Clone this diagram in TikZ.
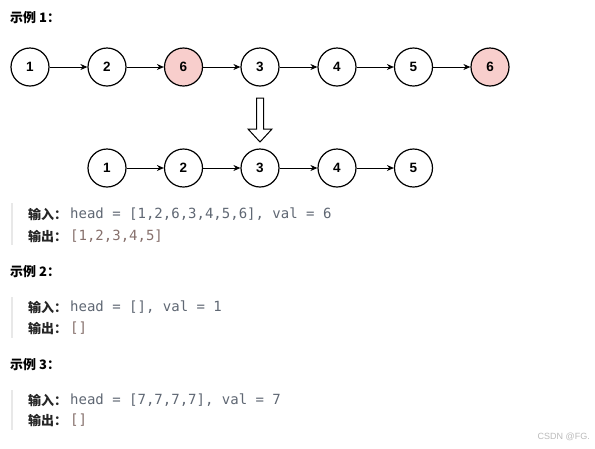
\documentclass[tikz,border=0pt]{standalone}
\usepackage{fontspec}
\setmainfont{Liberation Sans}
\newfontfamily\cjk{Noto Sans CJK SC}
\setmonofont{DejaVu Sans Mono}
\usetikzlibrary{arrows.meta}
\definecolor{pinkfill}{HTML}{F8CECC}
\definecolor{intxt}{HTML}{5F6773}
\definecolor{outtxt}{HTML}{86706C}
\definecolor{barc}{HTML}{E8E8E8}
\definecolor{wm}{HTML}{BBBBBB}
\begin{document}
\begin{tikzpicture}[x=1pt,y=-1pt,
 ln/.style={circle,draw,line width=1.2pt,minimum size=38pt,inner sep=0pt,font=\bfseries\fontsize{13.5}{13.5}\selectfont},
 hot/.style={ln,fill=pinkfill},
 link/.style={-{Stealth[length=7pt,width=6pt]},line width=0.9pt},
 heading/.style={anchor=west,font=\cjk\bfseries\fontsize{13}{13}\selectfont,inner sep=0pt},
 lab/.style={anchor=west,font=\cjk\bfseries\fontsize{13}{13}\selectfont,inner sep=0pt,text=black!85},
 inp/.style={anchor=west,inner sep=0pt,font=\ttfamily\fontsize{14}{14}\selectfont,text=intxt},
 outp/.style={inp,text=outtxt},
 qbar/.style={line width=2.5pt,draw=barc}]
\useasboundingbox[fill=white] (0,0) rectangle (595,448);

% headings
\node[heading] (h1) at (10,18) {示例 1：};
\node[heading] (h2) at (10,272) {示例 2：};
\node[heading] (h3) at (10,365) {示例 3：};

% top list
\node[ln]  (a1) at (30,67)   {1};
\node[ln]  (a2) at (107,67)  {2};
\node[hot] (a3) at (183.5,67){6};
\node[ln]  (a4) at (260,67)  {3};
\node[ln]  (a5) at (337,67)  {4};
\node[ln]  (a6) at (413.5,67){5};
\node[hot] (a7) at (490,67)  {6};
\foreach \i/\j in {a1/a2,a2/a3,a3/a4,a4/a5,a5/a6,a6/a7}
  \draw[link] (\i) -- (\j);

% hollow arrow
\draw[line width=1pt,fill=white,line join=miter]
  (256.5,98) -- (263.5,98) -- (263.5,129) -- (272,129) -- (260,142)
  -- (248,129) -- (256.5,129) -- cycle;

% bottom list
\node[ln] (b1) at (107,168) {1};
\node[ln] (b2) at (183.5,168) {2};
\node[ln] (b3) at (260,168) {3};
\node[ln] (b4) at (337,168) {4};
\node[ln] (b5) at (413.5,168) {5};
\foreach \i/\j in {b1/b2,b2/b3,b3/b4,b4/b5}
  \draw[link] (\i) -- (\j);

% block 1
\draw[qbar] (12,203) -- (12,245);
\node[lab] (l1i) at (28,214) {输入：};
\node[inp] (t1i) at (70,214) {head = [1,2,6,3,4,5,6], val = 6};
\node[lab] (l1o) at (28,236) {输出：};
\node[outp] (t1o) at (70,236) {[1,2,3,4,5]};

% block 2
\draw[qbar] (12,297) -- (12,338);
\node[lab] (l2i) at (28,307) {输入：};
\node[inp] (t2i) at (70,307) {head = [], val = 1};
\node[lab] (l2o) at (28,328) {输出：};
\node[outp] (t2o) at (70,328) {[]};

% block 3
\draw[qbar] (12,390) -- (12,430);
\node[lab] (l3i) at (28,400) {输入：};
\node[inp] (t3i) at (70,400) {head = [7,7,7,7], val = 7};
\node[lab] (l3o) at (28,420) {输出：};
\node[outp] (t3o) at (70,420) {[]};

% watermark
\node[anchor=east,inner sep=0pt,font=\fontsize{9}{9}\selectfont,text=wm] (wm) at (590,437) {CSDN @FG.};
\end{tikzpicture}
\end{document}
